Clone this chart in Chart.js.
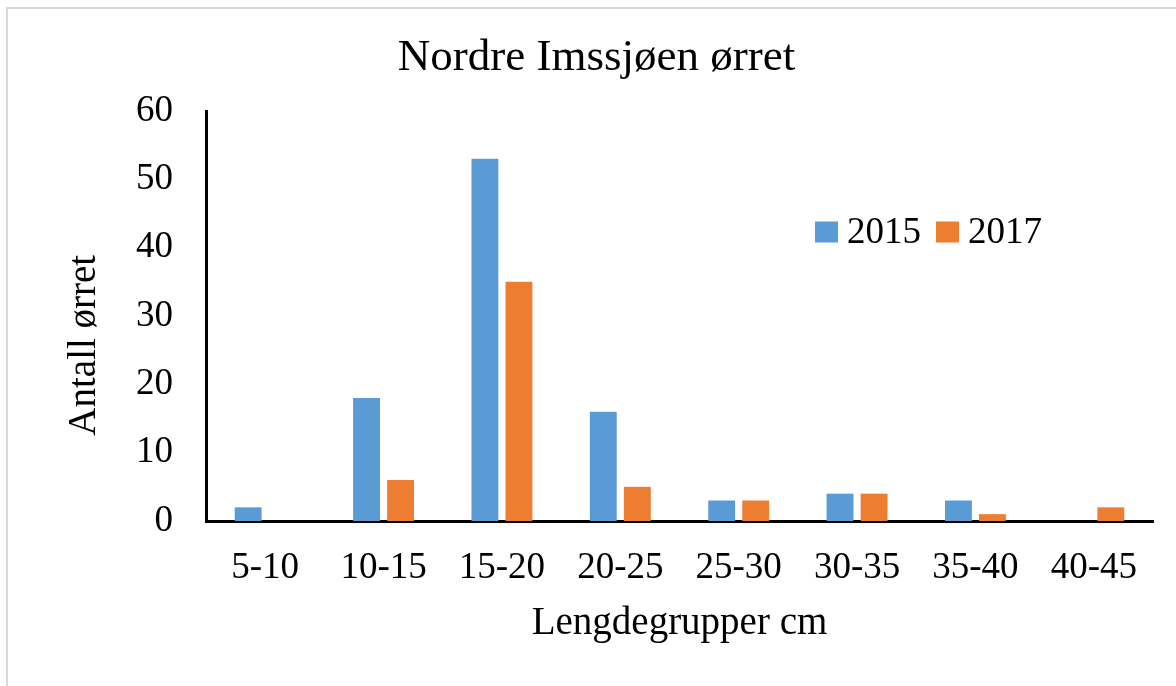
<!DOCTYPE html>
<html>
<head>
<meta charset="utf-8">
<script src="https://cdn.jsdelivr.net/npm/chart.js@4/dist/chart.umd.min.js"></script>
<style>
  html, body { margin: 0; padding: 0; background: #fff; overflow: hidden; }
  #wrap { position: relative; width: 1176px; height: 686px; }
  #frame { position: absolute; left: 6px; top: 7px; width: 1300px; height: 800px;
           border: 2px solid #d9d9d9; pointer-events: none; }
</style>
</head>
<body>
<div id="wrap">
  <canvas id="c" width="1176" height="686"></canvas>
  <div id="frame"></div>
</div>
<script>
const categories = ['5-10', '10-15', '15-20', '20-25', '25-30', '30-35', '35-40', '40-45'];
const seriesNames = ['2015', '2017'];
const values2015 = [2, 18, 53, 16, 3, 4, 3, 0];
const values2017 = [0, 6, 35, 5, 3, 4, 1, 2];
const yTicks = [0, 10, 20, 30, 40, 50, 60];
const chartTitle = 'Nordre Imssjøen ørret';
const xTitle = 'Lengdegrupper cm';
const yTitle = 'Antall ørret';

const colors = ['#5B9BD5', '#ED7D31'];
const FONT = 'Liberation Serif';

const legendPlugin = {
  id: 'customLegend',
  afterDraw(chart) {
    const ctx = chart.ctx;
    ctx.save();
    ctx.font = '37px "' + FONT + '"';
    ctx.textBaseline = 'middle';
    ctx.textAlign = 'left';
    let x = 815;
    const yMid = 232;
    chart.data.datasets.forEach((ds) => {
      ctx.fillStyle = ds.backgroundColor;
      ctx.fillRect(x, yMid - 10.5, 23, 21);
      ctx.fillStyle = '#000';
      ctx.fillText(ds.label, x + 32, yMid + 1);
      x += 32 + ctx.measureText(ds.label).width + 15;
    });
    ctx.restore();
  }
};

new Chart(document.getElementById('c'), {
  type: 'bar',
  data: {
    labels: categories,
    datasets: [
      { label: seriesNames[0], data: values2015, backgroundColor: colors[0],
        categoryPercentage: 0.575, barPercentage: 0.79 },
      { label: seriesNames[1], data: values2017, backgroundColor: colors[1],
        categoryPercentage: 0.575, barPercentage: 0.79 }
    ]
  },
  options: {
    responsive: false,
    animation: false,
    layout: { padding: { left: 40, right: 23, top: 0, bottom: 0 } },
    plugins: {
      legend: { display: false },
      tooltip: { enabled: false },
      title: {
        display: true,
        text: chartTitle,
        color: '#000',
        font: { family: FONT, size: 45, weight: 'normal' },
        padding: { top: 31, bottom: 26 }
      }
    },
    scales: {
      x: {
        grid: { display: false, drawTicks: false },
        border: { display: true, color: '#000', width: 3 },
        ticks: { color: '#000', font: { family: FONT, size: 37 }, padding: 25, maxRotation: 0, autoSkip: false },
        title: { display: true, text: xTitle, color: '#000',
                 font: { family: FONT, size: 39 }, padding: { top: 0, bottom: 39 } },
        afterFit(scale) { scale.height = 165; }
      },
      y: {
        min: 0, max: 60,
        grid: { display: false, drawTicks: false },
        border: { display: true, color: '#000', width: 3 },
        afterBuildTicks(scale) { scale.ticks = yTicks.map(v => ({ value: v })); },
        ticks: { color: '#000', font: { family: FONT, size: 37 }, padding: 33 },
        title: { display: true, text: yTitle + '      ', color: '#000',
                 font: { family: FONT, size: 39 }, padding: { top: 21, bottom: 0 } },
        afterFit(scale) { scale.width = 166; }
      }
    }
  },
  plugins: [legendPlugin]
});
</script>
</body>
</html>
